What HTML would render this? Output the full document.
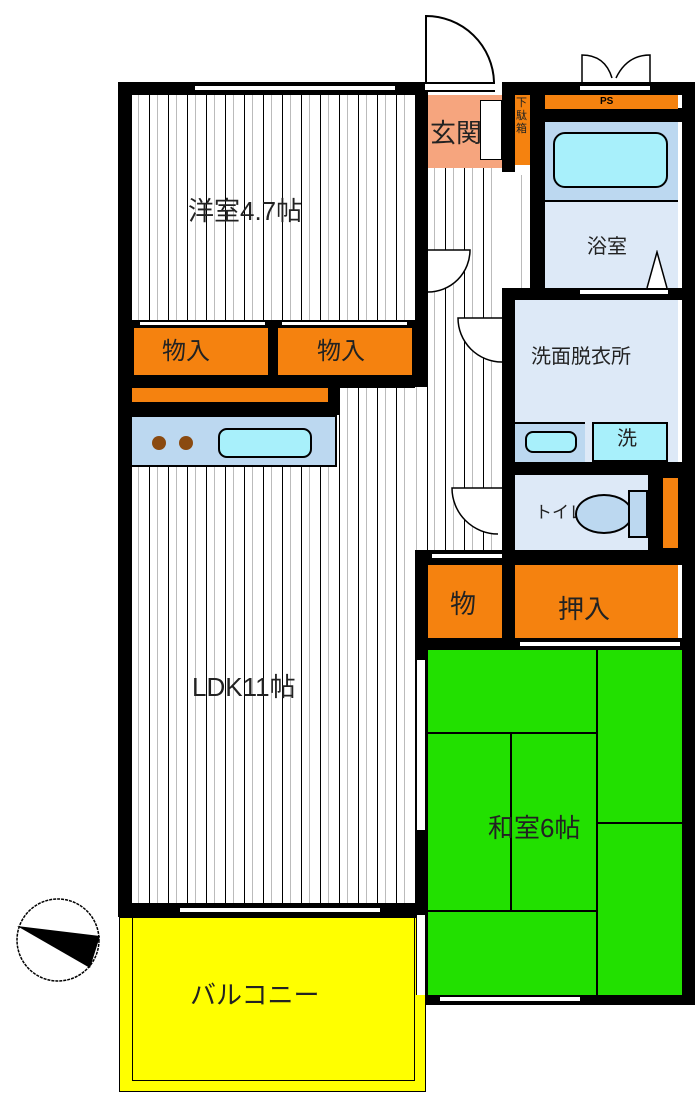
<!DOCTYPE html>
<html><head><meta charset="utf-8"><style>
body{margin:0;width:700px;height:1108px;background:#fff;position:relative;overflow:hidden;font-family:"Liberation Sans","Noto Sans CJK JP",sans-serif}
div{position:absolute;box-sizing:border-box}
.k{background:#000}
.st{background:repeating-linear-gradient(90deg,#fff 0,#fff 6px,#bbb 6px,#bbb 7px,#fff 7px,#fff 17px,#000 17px,#000 18px,#fff 18px,#fff 19px)}
.or{background:#f5820f}
.t{color:#222;font-size:26px;white-space:nowrap;line-height:1}
.win{background:#fff;border-top:2px solid #000;border-bottom:2px solid #000}
</style></head><body>
<div class="st" style="left:410px;top:387px;width:20px;height:165px"></div>
<!-- outer black walls -->
<div class="k" style="left:118px;top:82px;width:310px;height:13px"></div>
<div class="k" style="left:505px;top:82px;width:190px;height:13px"></div>
<div class="k" style="left:118px;top:82px;width:14px;height:835px"></div>
<div class="k" style="left:682px;top:82px;width:13px;height:923px"></div>
<div class="k" style="left:415px;top:82px;width:13px;height:305px"></div>
<div class="k" style="left:415px;top:550px;width:13px;height:455px"></div>
<div class="k" style="left:415px;top:995px;width:280px;height:10px"></div>
<div class="k" style="left:118px;top:903px;width:310px;height:14px"></div>
<div class="k" style="left:502px;top:82px;width:13px;height:90px"></div>
<div class="k" style="left:530px;top:82px;width:15px;height:216px"></div>
<div class="k" style="left:545px;top:108px;width:137px;height:14px"></div>
<div class="k" style="left:502px;top:288px;width:193px;height:12px"></div>
<div class="k" style="left:502px;top:288px;width:13px;height:350px"></div>
<div class="k" style="left:502px;top:462px;width:193px;height:13px"></div>
<div class="k" style="left:415px;top:550px;width:280px;height:15px"></div>
<div class="k" style="left:415px;top:638px;width:280px;height:12px"></div>
<div class="k" style="left:648px;top:475px;width:34px;height:75px"></div>
<!-- western room -->
<div class="st" style="left:132px;top:95px;width:283px;height:225px"></div>
<div class="t" style="left:188px;top:198px">洋室4.7帖</div>
<div class="k" style="left:132px;top:320px;width:283px;height:68px"></div>
<div class="or" style="left:134px;top:328px;width:134px;height:47px"></div>
<div class="or" style="left:278px;top:328px;width:134px;height:47px"></div>
<div class="t" style="left:162px;top:340px;font-size:24px">物入</div>
<div class="t" style="left:317px;top:340px;font-size:24px">物入</div>
<!-- LDK -->
<div class="st" style="left:132px;top:388px;width:283px;height:515px"></div>
<div class="or" style="left:132px;top:388px;width:196px;height:14px"></div>
<div class="k" style="left:132px;top:402px;width:205px;height:13px"></div>
<div class="k" style="left:328px;top:388px;width:12px;height:27px"></div>
<div style="left:132px;top:415px;width:205px;height:52px;background:#bcd8f0;border:2px solid #000;border-left:none"></div>
<div style="left:152px;top:436px;width:14px;height:14px;border-radius:50%;background:#8a4a10"></div>
<div style="left:179px;top:436px;width:14px;height:14px;border-radius:50%;background:#8a4a10"></div>
<div style="left:218px;top:428px;width:94px;height:30px;border-radius:9px;background:#a8f0fb;border:2px solid #000"></div>
<div class="t" style="left:192px;top:674px">LDK11帖</div>
<div class="win" style="left:180px;top:906px;width:200px;height:8px"></div>
<div class="win" style="left:195px;top:84px;width:200px;height:8px"></div>
<div class="win" style="left:140px;top:320px;width:125px;height:7px"></div>
<div class="win" style="left:282px;top:320px;width:125px;height:7px"></div>
<!-- balcony -->
<div style="left:119px;top:917px;width:307px;height:175px;border:1px solid #000;background:#ff0"></div>
<div style="left:132px;top:917px;width:283px;height:164px;border:1px solid #000;border-top:none"></div>
<div class="t" style="left:190px;top:982px">バルコニー</div>
<!-- entry & corridor -->
<div style="left:428px;top:95px;width:74px;height:73px;background:#f6a57e"></div>
<div class="t" style="left:430px;top:120px">玄関</div>
<div style="left:480px;top:100px;width:22px;height:60px;background:#fff;border:1px solid #000"></div>
<div class="or" style="left:515px;top:95px;width:15px;height:70px"></div>
<div style="left:516px;top:97px;font-size:11px;line-height:13px;width:14px;color:#222">下駄箱</div>
<div class="st" style="left:428px;top:168px;width:74px;height:382px"></div>
<div class="st" style="left:515px;top:175px;width:15px;height:113px"></div>
<div class="win" style="left:425px;top:82px;width:70px;height:10px"></div>
<svg style="position:absolute;left:0;top:0" width="700" height="1108">
<path d="M426 82 V16 A68 68 0 0 1 494 82" fill="#fff" stroke="#000" stroke-width="2"/>
<path d="M428 250 H470 A42 42 0 0 1 428 292" fill="#fff" stroke="#000" stroke-width="1.5"/>
<path d="M502 318 H458 A44 44 0 0 0 502 362" fill="#fff" stroke="#000" stroke-width="1.5"/>
<path d="M502 488 H452 A46 46 0 0 0 498 534" fill="#fff" stroke="#000" stroke-width="1.5"/>
<path d="M582 82 V55 Q605 55 612 78 M650 82 V55 Q627 55 616 78" fill="none" stroke="#000" stroke-width="1.5"/>
<circle cx="58" cy="940" r="41" fill="#fff" stroke="#000" stroke-width="1.5" stroke-dasharray="3 1"/>
<polygon points="17,926 100,936 90,968" fill="#000"/>
</svg>
<!-- PS / bath -->
<div class="win" style="left:580px;top:84px;width:70px;height:8px"></div>
<div class="or" style="left:545px;top:95px;width:133px;height:14px"></div>
<div style="left:600px;top:96px;font-size:10px;font-weight:bold">PS</div>
<div style="left:545px;top:122px;width:133px;height:166px;background:#dde9f7"></div>
<div style="left:545px;top:122px;width:133px;height:80px;background:#bcd8f0;border-bottom:2px solid #000"></div>
<div style="left:553px;top:132px;width:115px;height:56px;border-radius:12px;background:#a8f0fb;border:2px solid #000"></div>
<div class="t" style="left:587px;top:237px;font-size:20px">浴室</div>
<svg style="position:absolute;left:645px;top:250px" width="25" height="40"><path d="M2 38 L12 2 L22 38" fill="#fff" stroke="#000" stroke-width="1.5"/></svg>
<div class="win" style="left:580px;top:288px;width:88px;height:8px"></div>
<!-- washroom -->
<div style="left:515px;top:300px;width:163px;height:162px;background:#dde9f7"></div>
<div class="t" style="left:531px;top:347px;font-size:20px">洗面脱衣所</div>
<div style="left:515px;top:422px;width:70px;height:40px;background:#bcd8f0;border-top:2px solid #000"></div>
<div style="left:525px;top:431px;width:52px;height:22px;border-radius:8px;background:#a8f0fb;border:2px solid #000"></div>
<div style="left:592px;top:422px;width:76px;height:40px;background:#a8f0fb;border:2px solid #000"></div>
<div class="t" style="left:617px;top:429px;font-size:20px">洗</div>
<!-- toilet -->
<div style="left:515px;top:475px;width:133px;height:75px;background:#dde9f7"></div>
<div class="t" style="left:535px;top:504px;font-size:17px">トイレ</div>
<div style="left:575px;top:494px;width:58px;height:40px;border-radius:50%;background:#bcd8f0;border:2px solid #000"></div>
<div style="left:628px;top:490px;width:20px;height:48px;background:#bcd8f0;border:2px solid #000"></div>
<div class="or" style="left:663px;top:478px;width:15px;height:70px"></div>
<div class="win" style="left:432px;top:552px;width:70px;height:8px"></div>
<!-- closets -->
<div class="or" style="left:428px;top:565px;width:74px;height:73px"></div>
<div class="or" style="left:515px;top:565px;width:163px;height:73px"></div>
<div class="t" style="left:450px;top:591px">物</div>
<div class="t" style="left:558px;top:596px">押入</div>
<!-- washitsu -->
<div style="left:428px;top:650px;width:254px;height:345px;background:#22e000"></div>
<div class="k" style="left:428px;top:732px;width:170px;height:2px"></div>
<div class="k" style="left:596px;top:650px;width:2px;height:345px"></div>
<div class="k" style="left:510px;top:732px;width:2px;height:180px"></div>
<div class="k" style="left:428px;top:910px;width:170px;height:2px"></div>
<div class="k" style="left:596px;top:822px;width:86px;height:2px"></div>
<div class="win" style="left:520px;top:640px;width:160px;height:8px"></div>
<div class="win" style="left:440px;top:995px;width:140px;height:8px"></div>
<div style="left:416px;top:660px;width:10px;height:170px;background:#fff;border-left:1px solid #000;border-right:1px solid #000"></div>
<div style="left:416px;top:915px;width:10px;height:80px;background:#fff;border-left:1px solid #000;border-right:1px solid #000"></div>
<div class="t" style="left:488px;top:815px">和室6帖</div>
</body></html>
